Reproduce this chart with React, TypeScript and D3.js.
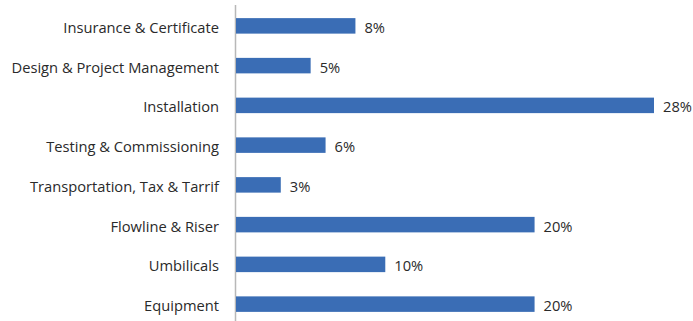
import React from "react";
import * as d3 from "d3";

const categories = [
  "Insurance & Certificate",
  "Design & Project Management",
  "Installation",
  "Testing & Commissioning",
  "Transportation, Tax & Tarrif",
  "Flowline & Riser",
  "Umbilicals",
  "Equipment",
];
const values = [8, 5, 28, 6, 3, 20, 10, 20];

const W = 693;
const H = 321;
const axisX = 236;

export default function App() {
  const x = d3.scaleLinear().domain([0, 28]).range([axisX, 654]);
  const y = d3.scaleBand<string>().domain(categories).range([6, 324]).paddingInner(0.61).paddingOuter(0.305);
  const font = "'Open Sans', sans-serif";
  return (
    <svg width={W} height={H} style={{ position: "absolute", left: 0, top: 0, background: "#fff" }}>
      <line x1={axisX - 0.5} x2={axisX - 0.5} y1={5} y2={H} stroke="#b8b8b8" strokeWidth={1.5} />
      {categories.map((c, i) => {
        const v = values[i];
        const yy = y(c)!;
        const bh = y.bandwidth();
        const cy = yy + bh / 2;
        return (
          <g key={c}>
            <rect x={axisX} y={yy} width={x(v) - axisX} height={bh} fill="#3a6db5" />
            <text x={219} y={cy + 1} textAnchor="end" dominantBaseline="central" fontFamily={font} fontSize={14.7} fontWeight={500} fill="#2a2a2a">
              {c}
            </text>
            <text x={x(v) + 9} y={cy + 1} textAnchor="start" dominantBaseline="central" fontFamily={font} fontSize={14.7} fontWeight={500} fill="#2a2a2a">
              {v}%
            </text>
          </g>
        );
      })}
    </svg>
  );
}
